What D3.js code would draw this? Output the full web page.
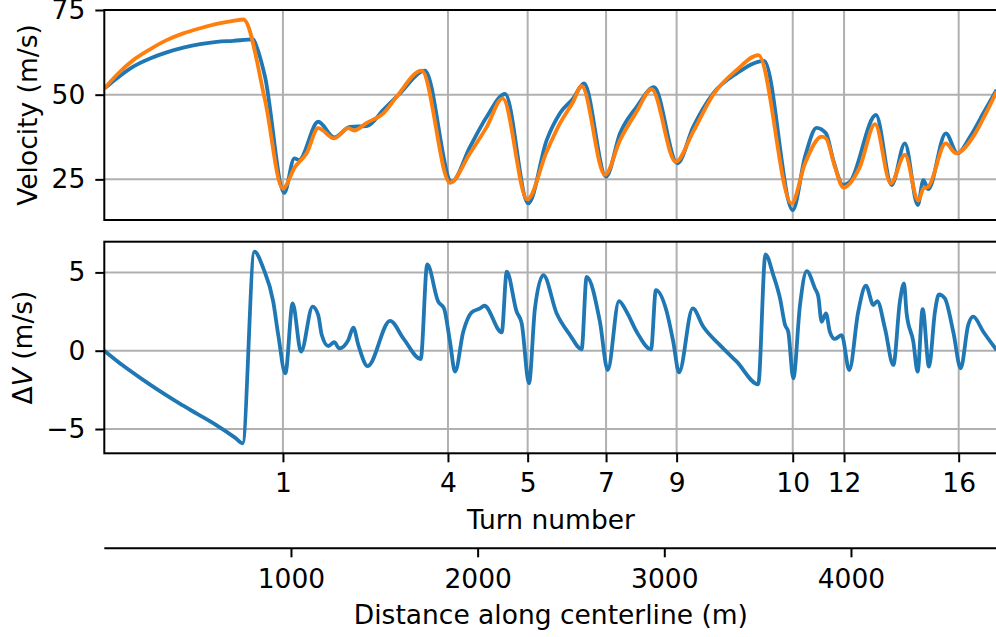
<!DOCTYPE html>
<html>
<head>
<meta charset="utf-8">
<script src="https://cdn.jsdelivr.net/npm/d3@7"></script>
<style>
  html, body { margin: 0; padding: 0; background: #ffffff; }
  svg { display: block; }
  text { font-family: "DejaVu Sans", sans-serif; fill: #000; }
</style>
</head>
<body>
<svg id="chart" width="996" height="637"></svg>
<script>
// Turn locations along the track (m) and their labels
const turnLabels = ["1", "4", "5", "7", "9", "10", "12", "16"];
const turnDist = [957, 1841, 2268, 2688, 3066, 3688, 3963, 4577];

// Distance axis ticks (m)
const distTicks = [1000, 2000, 3000, 4000];

// Velocity ticks (m/s)
const velTicks = [25, 50, 75];
const dvTicks = [-5, 0, 5];

// Velocity profile, first run (blue)
const blueDist = [0, 66, 155, 245, 334, 423, 513, 602, 691, 798, 816, 861, 964, 1018, 1043, 1146, 1232, 1316, 1406, 1495, 1584, 1718,
  1861, 1959, 2049, 2147, 2271, 2370, 2441, 2512, 2570, 2688, 2763, 2852, 2945, 3070, 3155, 3262, 3388, 3535,
  3688, 3754, 3816, 3866, 3905, 3959, 3995, 4134, 4218, 4289, 4358, 4388, 4414, 4508, 4570, 4638, 4709, 4780];
const blueVel = [51.8, 54.8, 58.3, 60.7, 62.5, 63.9, 64.9, 65.6, 65.9, 66.3, 64.2, 55.3, 21.0, 31.2, 30.7, 42.0, 37.4, 40.5, 40.7, 45.5, 50.4, 57.1,
  24.3, 34.6, 43.5, 50.2, 17.9, 36.6, 44.5, 48.9, 53.3, 25.8, 38.6, 46.4, 52.2, 29.7, 40.5, 50.4, 56.3, 60.0,
  15.9, 31.7, 40.2, 38.6, 30.7, 23.3, 24.3, 44.0, 23.3, 35.6, 17.4, 24.8, 22.1, 38.6, 32.7, 37.6, 44.5, 51.4];

// Velocity profile, second run (orange)
const orangeDist = [0, 66, 155, 245, 334, 423, 513, 602, 691, 745, 861, 956, 1022, 1084, 1146, 1232, 1307, 1338, 1406, 1495, 1566, 1700,
  1852, 1959, 2049, 2134, 2266, 2370, 2441, 2512, 2557, 2682, 2763, 2852, 2932, 3061, 3155, 3262, 3388, 3504,
  3682, 3754, 3843, 3866, 3914, 3959, 4048, 4129, 4213, 4289, 4361, 4388, 4414, 4508, 4563, 4655, 4709, 4780];
const orangeVel = [51.8, 55.8, 60.2, 63.4, 66.1, 68.1, 69.6, 70.9, 71.8, 72.2, 48.4, 22.3, 28.7, 32.7, 40.1, 37.1, 40.1, 39.4, 41.7, 44.5, 49.4, 57.1,
  24.0, 32.7, 40.5, 48.9, 19.1, 33.2, 41.5, 47.9, 52.6, 26.3, 36.6, 45.0, 51.6, 30.2, 39.1, 50.0, 57.3, 61.7,
  17.9, 29.7, 37.6, 37.1, 28.7, 22.6, 28.7, 41.3, 23.8, 32.2, 18.7, 22.3, 22.8, 35.6, 32.7, 37.6, 43.0, 50.9];

// Velocity difference between the two runs (m/s)
const dvDist = [0, 100, 200, 300, 400, 500, 600, 700, 741, 804, 852, 905, 932,
  970, 1009, 1054, 1116, 1146, 1165, 1200, 1232, 1259, 1307,
  1334, 1361, 1411, 1531, 1602, 1695, 1730, 1789, 1820, 1852,
  1879, 1923, 1968, 2013, 2036, 2129, 2156, 2209, 2236, 2275,
  2307, 2352, 2423, 2495, 2557, 2584, 2655, 2697, 2757, 2798,
  2852, 2929, 2955, 3013, 3048, 3079, 3152, 3209, 3298, 3388,
  3503, 3542, 3584, 3620, 3647, 3664, 3691, 3727, 3763, 3807,
  3825, 3843, 3866, 3887, 3914, 3950, 3991, 4039, 4080, 4120,
  4141, 4182, 4227, 4262, 4284, 4298, 4334, 4357, 4384, 4418,
  4450, 4471, 4503, 4548, 4588, 4628, 4655, 4709, 4780];
const dvVals = [0, -0.95, -1.8, -2.6, -3.35, -4.05, -4.75, -5.55, -5.91, 6.32, 5.26, 3.13, 1.0,
  -1.44, 3.02, -0.06, 2.81, 2.28, 1.0, 0.3, 0.54, 0.15, 0.68,
  1.47, 0.36, -0.98, 1.91, 0.79, -0.53, 5.51, 3.13, 2.70, 0.57,
  -1.34, 1.21, 2.45, 2.70, 2.87, 1.17, 5.04, 2.49, 1.75, -2.08,
  2.70, 4.83, 2.39, 1.0, 0.09, 4.72, 1.85, -1.23, 3.17, 2.49,
  1.21, 0.09, 3.87, 2.49, 0.57, -1.38, 2.70, 1.53, 0.36, -0.70,
  -2.15, 6.15, 4.83, 3.34, 1.64, 1.21, -1.76, 2.92, 5.08, 3.98,
  3.45, 1.85, 2.39, 1.21, 0.75, 1.0, -1.23, 2.49, 4.15, 2.92,
  3.17, 1.43, -0.91, 3.13, 4.30, 2.39, 0.57, -1.34, 2.66, -1.02,
  2.49, 3.6, 3.34, 1.21, -1.12, 1.64, 2.17, 1.21, 0.04];

const BLUE = "#1f77b4", ORANGE = "#ff7f0e", GRID = "#b0b0b0";
const FS = 26.5;
const TICK = 9, PAD = 10;

const svg = d3.select("#chart");

const left = 104.3, right = 997.5;
const x = d3.scaleLinear().domain([0, 4785]).range([left, right]);

const topPanel = { y0: 10, y1: 220 };
const botPanel = { y0: 241.7, y1: 453.3 };

const yV = d3.scaleLinear().domain([13, 75]).range([topPanel.y1, topPanel.y0]);
const yD = d3.scaleLinear().domain([-6.55, 6.96]).range([botPanel.y1, botPanel.y0]);

const fmt = d => (d < 0 ? "\u2212" + Math.abs(d) : String(d));

function zip(xs, ys) { return xs.map((d, i) => [d, ys[i]]); }

function styleAxis(g) {
  g.select(".domain").remove();
  g.selectAll(".tick line").attr("stroke", "#000").attr("stroke-width", 2);
  g.selectAll(".tick text").attr("font-size", FS).attr("font-family", "DejaVu Sans").attr("fill", "#000");
}

function panel(p, y, ticks, id) {
  const g = svg.append("g");
  svg.append("clipPath").attr("id", id)
    .append("rect").attr("x", left).attr("y", p.y0)
    .attr("width", right - left).attr("height", p.y1 - p.y0);

  // grid
  g.selectAll("line.hg").data(ticks).join("line")
    .attr("x1", left).attr("x2", right)
    .attr("y1", d => y(d)).attr("y2", d => y(d))
    .attr("stroke", GRID).attr("stroke-width", 2);
  g.selectAll("line.vg").data(turnDist).join("line")
    .attr("x1", d => x(d)).attr("x2", d => x(d))
    .attr("y1", p.y0).attr("y2", p.y1)
    .attr("stroke", GRID).attr("stroke-width", 2);

  const lines = svg.append("g").attr("clip-path", `url(#${id})`);

  // y axis
  const ax = d3.axisLeft(y).tickValues(ticks).tickSize(TICK).tickPadding(PAD).tickFormat(fmt);
  svg.append("g").attr("transform", `translate(${left},0)`).call(ax).call(styleAxis);

  return { lines, frame: () => svg.append("rect")
    .attr("x", left).attr("y", p.y0).attr("width", right - left).attr("height", p.y1 - p.y0)
    .attr("fill", "none").attr("stroke", "#000").attr("stroke-width", 2) };
}

const lineGen = (y) => d3.line().x(d => x(d[0])).y(d => y(d[1])).curve(d3.curveMonotoneX);

function drawLine(target, data, y, color) {
  target.append("path").datum(data)
    .attr("d", lineGen(y)).attr("fill", "none").attr("stroke", color)
    .attr("stroke-width", 3.8).attr("stroke-linejoin", "round");
}

// Top panel: velocity
const pTop = panel(topPanel, yV, velTicks, "clipTop");
drawLine(pTop.lines, zip(blueDist, blueVel), yV, BLUE);
drawLine(pTop.lines, zip(orangeDist, orangeVel), yV, ORANGE);
pTop.frame();

// Bottom panel: velocity difference
const pBot = panel(botPanel, yD, dvTicks, "clipBot");
drawLine(pBot.lines, zip(dvDist, dvVals), yD, BLUE);
pBot.frame();

// Turn-number axis under the bottom panel
const turnAxis = d3.axisBottom(x).tickValues(turnDist).tickSize(TICK).tickPadding(PAD + 1)
  .tickFormat((d, i) => turnLabels[i]);
svg.append("g").attr("transform", `translate(0,${botPanel.y1})`).call(turnAxis).call(styleAxis);

svg.append("text").attr("x", (left + right) / 2).attr("y", 528.6)
  .attr("text-anchor", "middle").attr("font-size", FS).text("Turn number");

// Distance axis
const distY = 548.3;
const distAxis = d3.axisBottom(x).tickValues(distTicks).tickSize(TICK).tickPadding(PAD + 2)
  .tickFormat(d3.format("d"));
svg.append("g").attr("transform", `translate(0,${distY})`).call(distAxis).call(styleAxis);
svg.append("line").attr("x1", left).attr("x2", right).attr("y1", distY).attr("y2", distY)
  .attr("stroke", "#000").attr("stroke-width", 2);

svg.append("text").attr("x", (left + right) / 2).attr("y", 623.6)
  .attr("text-anchor", "middle").attr("font-size", FS).text("Distance along centerline (m)");

// Y-axis titles
svg.append("text")
  .attr("transform", `translate(36.7,${(topPanel.y0 + topPanel.y1) / 2}) rotate(-90)`)
  .attr("text-anchor", "middle").attr("font-size", FS).text("Velocity (m/s)");

const dvLabel = svg.append("text")
  .attr("transform", `translate(31.7,${(botPanel.y0 + botPanel.y1) / 2}) rotate(-90)`)
  .attr("text-anchor", "middle").attr("font-size", FS);
dvLabel.append("tspan").text("\u0394");
dvLabel.append("tspan").attr("font-style", "italic").text("V");
dvLabel.append("tspan").text(" (m/s)");
</script>
</body>
</html>
